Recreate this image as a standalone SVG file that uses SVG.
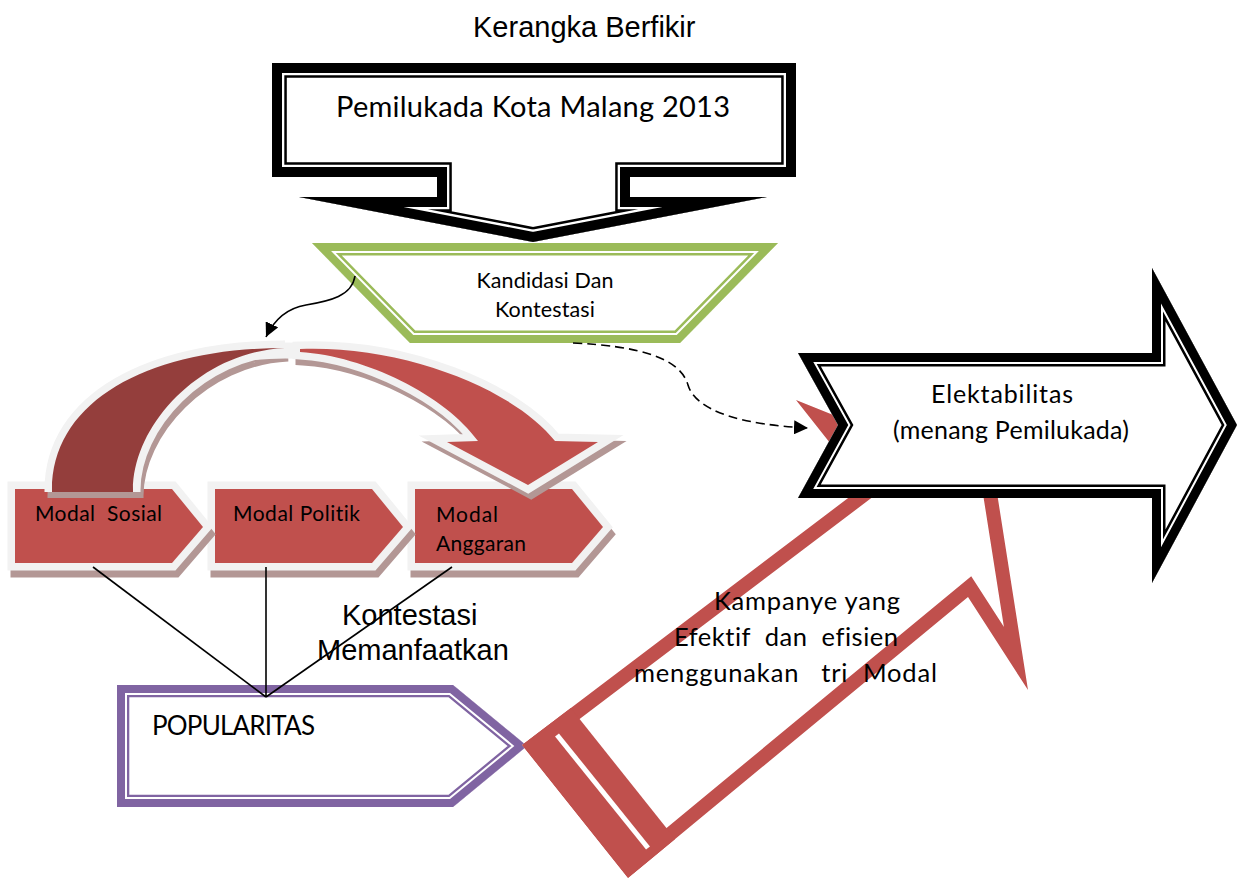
<svg xmlns="http://www.w3.org/2000/svg" width="1237" height="880" viewBox="0 0 1237 880">
<style>
  .cal { font-family: Lato, "Liberation Sans", sans-serif; fill: #000; font-variant-ligatures: none; font-feature-settings: "liga" 0, "clig" 0; }
  .ari { font-family: "Liberation Sans", Arial, sans-serif; fill: #000; }
  .mbox { fill: #C0504D; stroke: #F2F2F2; stroke-width: 15; stroke-linejoin: miter; paint-order: stroke; }
  .msh { fill: #B39795; stroke: #B39795; stroke-width: 15; stroke-linejoin: miter; }
  .conn { fill: none; stroke: #000; stroke-width: 1.6; }
  .nf { fill: none; stroke-linejoin: miter; stroke-miterlimit: 10; }
</style>
<defs>
  <polygon id="pemP" points="272,63 796,63 796,177 630,177 630,197 767,197 533,242 299,197 437,197 437,177 272,177"/>
  <polygon id="kanP" points="312,243 778,243 680,343 410,343"/>
  <polygon id="eleP" points="798,353 1152,353 1152,268 1237,425 1152,583 1152,498 798,498 838,425"/>
  <polygon id="popP" points="117,685 453,685 527,746 453,807 117,807"/>
  <polygon id="redP" points="522,745 864,486 796,400 995,480 1028,690 968,597 628,878"/>
  <clipPath id="cPem"><use href="#pemP"/></clipPath>
  <clipPath id="cKan"><use href="#kanP"/></clipPath>
  <clipPath id="cEle"><use href="#eleP"/></clipPath>
  <clipPath id="cPop"><use href="#popP"/></clipPath>
  <clipPath id="cRed"><use href="#redP"/></clipPath>
  <marker id="ah" viewBox="0 0 14 14" refX="14" refY="7" markerWidth="14" markerHeight="14" markerUnits="userSpaceOnUse" orient="auto">
    <path d="M0,0 L14,7 L0,14 Z" fill="#000"/>
  </marker>
</defs>
<rect width="1237" height="880" fill="#fff"/>

<text id="title" class="ari" x="473" y="37" font-size="29">Kerangka Berfikir</text>

<g id="pemilukada">
  <use href="#pemP" fill="#fff"/>
  <use href="#pemP" class="nf" stroke="#000" stroke-width="29.6" clip-path="url(#cPem)"/>
  <use href="#pemP" class="nf" stroke="#fff" stroke-width="24.6" clip-path="url(#cPem)"/>
  <use href="#pemP" class="nf" stroke="#000" stroke-width="20" clip-path="url(#cPem)"/>
  <text class="cal" x="533" y="117" font-size="29" text-anchor="middle" textLength="394">Pemilukada Kota Malang 2013</text>
</g>

<g id="kandidasi">
  <use href="#kanP" fill="#fff"/>
  <use href="#kanP" class="nf" stroke="#9BBB59" stroke-width="25" clip-path="url(#cKan)"/>
  <use href="#kanP" class="nf" stroke="#fff" stroke-width="20" clip-path="url(#cKan)"/>
  <use href="#kanP" class="nf" stroke="#9BBB59" stroke-width="16" clip-path="url(#cKan)"/>
  <text class="cal" x="545" y="288" font-size="21.5" text-anchor="middle" textLength="137">Kandidasi Dan</text>
  <text class="cal" x="545" y="317" font-size="21.5" text-anchor="middle" textLength="100">Kontestasi</text>
</g>

<g id="modal-anggaran">
  <polygon class="msh" transform="translate(3,7)" points="415,489 572,489 603,527 572,563 415,563"/>
  <polygon class="mbox" points="415,489 572,489 603,527 572,563 415,563"/>
  <text class="cal" x="436" y="522" font-size="21" textLength="62">Modal</text>
  <text class="cal" x="436" y="551" font-size="21" textLength="90">Anggaran</text>
</g>
<g id="modal-politik">
  <polygon class="msh" transform="translate(3,7)" points="215,489 372,489 403,527 372,563 215,563"/>
  <polygon class="mbox" points="215,489 372,489 403,527 372,563 215,563"/>
  <text class="cal" x="233" y="521" font-size="21" textLength="127">Modal Politik</text>
</g>
<g id="modal-sosial">
  <polygon class="msh" transform="translate(3,7)" points="15,489 172,489 203,527 172,563 15,563"/>
  <polygon class="mbox" points="15,489 172,489 203,527 172,563 15,563"/>
  <text class="cal" x="35" y="521" font-size="21" textLength="127" xml:space="preserve">Modal  Sosial</text>
</g>

<g id="curved-arrow">
  <g transform="translate(3,6)">
    <path d="M52,492 L52,490 C52,400 150,348 285,348 C200,352 133,425 133,490 L133,492 Z" fill="#B39795"/>
    <path d="M52,492 L52,490 C52,400 150,348 285,348 C200,352 133,425 133,490 L133,492" fill="none" stroke="#B39795" stroke-width="15"/>
    <path d="M300,349 C405,345 515,390 555,441 L598,442 L528,485 L447,442 L478,441 C445,395 365,356 300,352 Z" fill="#B39795" stroke="#B39795" stroke-width="15"/>
  </g>
  <path d="M52,492 L52,490 C52,400 150,348 285,348 C200,352 133,425 133,490 L133,492" fill="none" stroke="#F2F2F2" stroke-width="15"/>
  <path d="M245,353 C275,349 310,350 345,355" fill="none" stroke="#F2F2F2" stroke-width="16"/>
  <path d="M52,492 L52,490 C52,400 150,348 285,348 C200,352 133,425 133,490 L133,492 Z" fill="#943E3C"/>
  <path d="M300,349 C405,345 515,390 555,441 L598,442 L528,485 L447,442 L478,441 C445,395 365,356 300,352 Z" fill="#C0504D" stroke="#F2F2F2" stroke-width="15" paint-order="stroke"/>
</g>

<g id="popularitas">
  <use href="#popP" fill="#fff"/>
  <use href="#popP" class="nf" stroke="#8064A2" stroke-width="24.6" clip-path="url(#cPop)"/>
  <use href="#popP" class="nf" stroke="#fff" stroke-width="20" clip-path="url(#cPop)"/>
  <use href="#popP" class="nf" stroke="#8064A2" stroke-width="16" clip-path="url(#cPop)"/>
  <text class="cal" x="152" y="735" font-size="26" textLength="163">POPULARITAS</text>
</g>

<g id="kampanye-arrow">
  <use href="#redP" fill="#fff"/>
  <use href="#redP" class="nf" stroke="#C0504D" stroke-width="28" clip-path="url(#cRed)"/>
  <polygon points="522,745 628,878 676,840 570,707" fill="#C0504D" clip-path="url(#cRed)"/>
  <line x1="557" y1="735" x2="648" y2="848" stroke="#fff" stroke-width="5"/>
</g>

<g id="elektabilitas">
  <use href="#eleP" fill="#fff"/>
  <use href="#eleP" class="nf" stroke="#000" stroke-width="27" clip-path="url(#cEle)"/>
  <use href="#eleP" class="nf" stroke="#fff" stroke-width="22" clip-path="url(#cEle)"/>
  <use href="#eleP" class="nf" stroke="#000" stroke-width="18" clip-path="url(#cEle)"/>
  <text class="cal" x="931" y="403" font-size="25" textLength="142">Elektabilitas</text>
  <text class="cal" x="893" y="439" font-size="25" textLength="236">(menang Pemilukada)</text>
</g>

<g id="connectors">
  <path class="conn" d="M355,276 C352,296 330,301 306,305 C288,308 275,318 266,337" marker-end="url(#ah)"/>
  <path class="conn" d="M573,343 C640,346 680,358 688,385 C696,412 745,425 808,428" stroke-dasharray="9,5" marker-end="url(#ah)"/>
  <line class="conn" x1="93" y1="567" x2="266" y2="697"/>
  <line class="conn" x1="266" y1="567" x2="266" y2="697"/>
  <line class="conn" x1="452" y1="567" x2="266" y2="697"/>
</g>

<g id="labels">
  <text class="ari" x="342" y="625" font-size="29">Kontestasi</text>
  <text class="ari" x="317" y="660" font-size="29">Memanfaatkan</text>
  <text class="cal" x="714" y="610" font-size="25.5" textLength="186">Kampanye yang</text>
  <text class="cal" x="674" y="646" font-size="25.5" textLength="224" xml:space="preserve">Efektif  dan  efisien</text>
  <text class="cal" x="634" y="682" font-size="25.5" textLength="303" xml:space="preserve">menggunakan   tri  Modal</text>
</g>
</svg>
